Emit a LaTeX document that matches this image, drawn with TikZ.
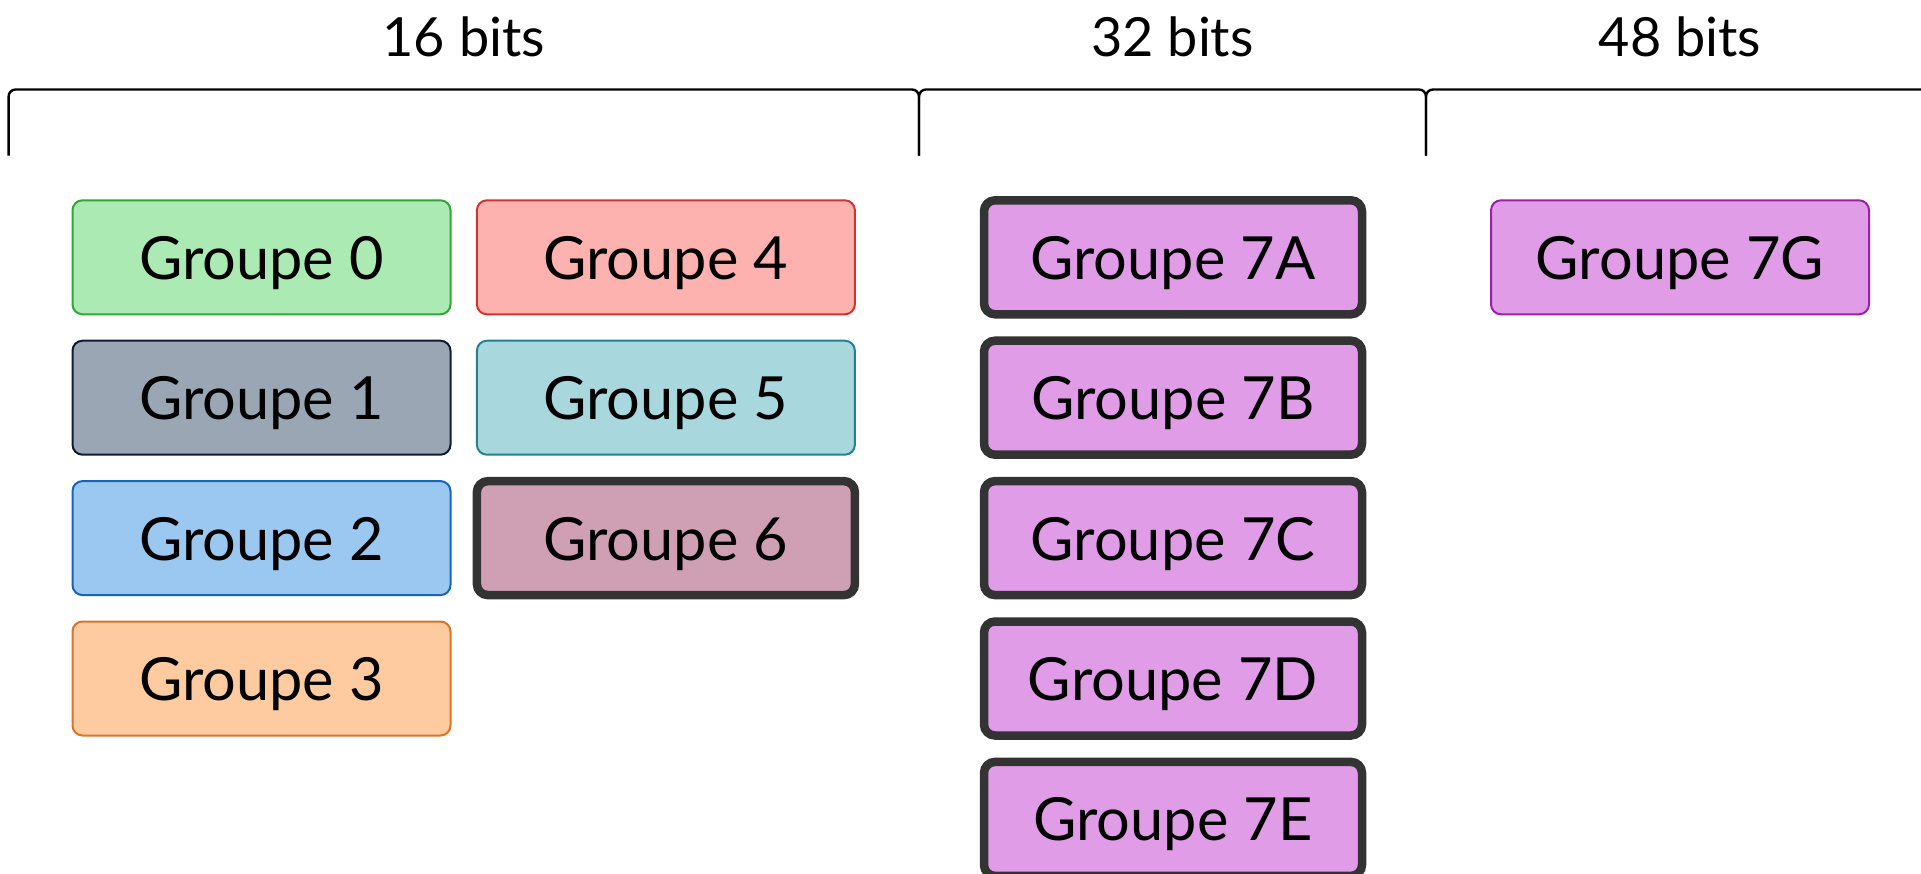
\documentclass[tikz,border=0pt]{standalone}
\usepackage{fontspec}
\setmainfont{Lato}
\begin{document}
\begin{tikzpicture}[x=1pt,y=-1pt,
  lbl/.style={font=\fontsize{54}{64}\selectfont},
  grp/.style={rounded corners=10pt, minimum width=378pt, minimum height=114pt,
    inner sep=0pt, line width=2pt, font=\fontsize{59.5}{70}\selectfont,
    text height=44pt, text depth=0pt},
  bold/.style={grp, draw=edgedark, line width=8.5pt, rounded corners=11pt},
  brace/.style={line width=2.4pt, rounded corners=7pt}]
\definecolor{g0f}{HTML}{ABEBB3}\definecolor{g0d}{HTML}{2EA836}
\definecolor{g1f}{HTML}{9AA6B4}\definecolor{g1d}{HTML}{0D1B33}
\definecolor{g2f}{HTML}{9BC8F0}\definecolor{g2d}{HTML}{1565B8}
\definecolor{g3f}{HTML}{FECBA1}\definecolor{g3d}{HTML}{D9752A}
\definecolor{g4f}{HTML}{FEB2B0}\definecolor{g4d}{HTML}{D0342C}
\definecolor{g5f}{HTML}{A8D8DE}\definecolor{g5d}{HTML}{22838E}
\definecolor{g6f}{HTML}{CFA0B4}
\definecolor{g7f}{HTML}{E09CE6}\definecolor{g7d}{HTML}{9B1FA8}
\definecolor{edgedark}{HTML}{333333}
\useasboundingbox (0,0) rectangle (1921,873);

% width brackets
\coordinate (b0) at (8.6,155.6);
\coordinate (b1) at (919,155.6);
\coordinate (b2) at (1426,155.6);
\draw[brace] (b0) -- (8.6,89.5) -- (919,89.5) -- (b1);
\draw[brace] (b1) -- (919,89.5) -- (1426,89.5) -- (b2);
\draw[brace] (b2) -- (1426,89.5) -- (1940,89.5);

\node[lbl] (w16) at (463.8,37) {16 bits};
\node[lbl] (w32) at (1172.5,37) {32 bits};
\node[lbl] (w48) at (1680,37) {48 bits};

% 16-bit groups
\node[grp, fill=g0f, draw=g0d] (G0) at (261.5,257.3) {Groupe 0};
\node[grp, fill=g1f, draw=g1d] (G1) at (261.5,397.7) {Groupe 1};
\node[grp, fill=g2f, draw=g2d] (G2) at (261.5,538.1) {Groupe 2};
\node[grp, fill=g3f, draw=g3d] (G3) at (261.5,678.5) {Groupe 3};
\node[grp, fill=g4f, draw=g4d] (G4) at (665.9,257.3) {Groupe 4};
\node[grp, fill=g5f, draw=g5d] (G5) at (665.9,397.7) {Groupe 5};
\node[bold, fill=g6f] (G6) at (665.9,538.1) {Groupe 6};

% 32-bit groups
\node[bold, fill=g7f] (G7A) at (1173,257.3) {Groupe 7A};
\node[bold, fill=g7f] (G7B) at (1173,397.7) {Groupe 7B};
\node[bold, fill=g7f] (G7C) at (1173,538.1) {Groupe 7C};
\node[bold, fill=g7f] (G7D) at (1173,678.5) {Groupe 7D};
\node[bold, fill=g7f] (G7E) at (1173,818.9) {Groupe 7E};

% 48-bit group
\node[grp, fill=g7f, draw=g7d] (G7G) at (1680,257.3) {Groupe 7G};
\end{tikzpicture}
\end{document}
